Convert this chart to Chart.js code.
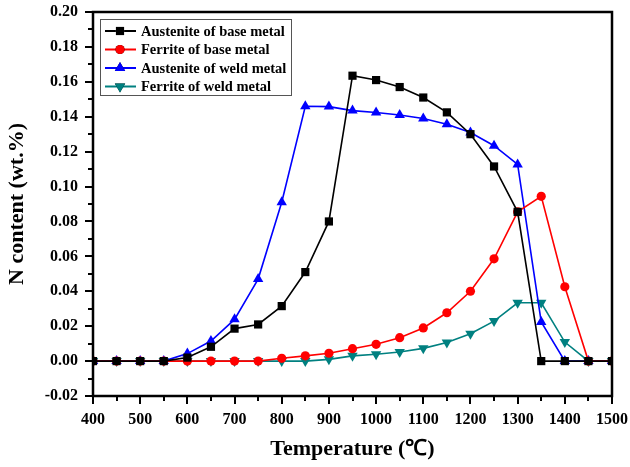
<!DOCTYPE html>
<html>
<head>
<meta charset="utf-8">
<title>N content vs temperature</title>
<script src="https://cdn.jsdelivr.net/npm/chart.js@4.4.1/dist/chart.umd.min.js"></script>
<style>
  html, body { margin: 0; padding: 0; background: #fff; }
  #wrap { width: 630px; height: 467px; }
</style>
</head>
<body>
<div id="wrap"><canvas id="nGraph" width="630" height="467"></canvas></div>
<script>
// temperature steps (°C)
const temps = [400, 450, 500, 550, 600, 650, 700, 750, 800, 850, 900, 950, 1000,
  1050, 1100, 1150, 1200, 1250, 1300, 1350, 1400, 1450, 1500];

// N content (wt.%)
const austeniteBase = [0, 0, 0, 0, 0.002, 0.0082, 0.0186, 0.021, 0.0315, 0.051, 0.080, 0.1635, 0.161,
  0.157, 0.151, 0.1425, 0.130, 0.1115, 0.0855, 0, 0, 0, 0];
const ferriteBase = [0, 0, 0, 0, 0, 0, 0, 0, 0.0016, 0.003, 0.0045, 0.0071, 0.0096,
  0.0134, 0.019, 0.0277, 0.040, 0.0586, 0.0855, 0.0944, 0.0426, 0, 0];
const austeniteWeld = [0, 0, 0, 0, 0.0043, 0.0115, 0.0239, 0.047, 0.091, 0.146, 0.1458, 0.1435, 0.1424,
  0.141, 0.139, 0.1357, 0.131, 0.1234, 0.1127, 0.0224, 0, 0, 0];
const ferriteWeld = [0, 0, 0, 0, 0, 0, 0, 0, 0, 0, 0.001, 0.003, 0.0039,
  0.0052, 0.0073, 0.0106, 0.0157, 0.0229, 0.0334, 0.0334, 0.0109, 0, 0];

const xTicks = [400, 500, 600, 700, 800, 900, 1000, 1100, 1200, 1300, 1400, 1500];
const yTicks = [-0.02, 0, 0.02, 0.04, 0.06, 0.08, 0.10, 0.12, 0.14, 0.16, 0.18, 0.20];

const serif = "'Liberation Serif', 'Times New Roman', serif";

function pts(vals) {
  return vals.map((v, i) => ({ x: temps[i], y: v }));
}

function series(label, vals, color, style, radius, rotation) {
  return {
    label: label,
    data: pts(vals),
    borderColor: color,
    backgroundColor: color,
    borderWidth: 1.6,
    pointStyle: style,
    pointRadius: radius,
    pointRotation: rotation || 0,
    pointBorderWidth: 0,
    pointHoverRadius: radius,
    tension: 0
  };
}

// frame, outward ticks and the boxed legend in the top-left corner
const framePlugin = {
  id: 'frame',
  afterDraw(chart) {
    const ctx = chart.ctx;
    const a = chart.chartArea;
    const xs = chart.scales.x;
    const ys = chart.scales.y;
    ctx.save();
    ctx.strokeStyle = '#000';

    // minor + major ticks
    ctx.lineWidth = 2;
    for (let t = 400; t <= 1500; t += 50) {
      const px = Math.round(xs.getPixelForValue(t));
      const len = (t % 100 === 0) ? 8 : 5;
      ctx.beginPath();
      ctx.moveTo(px, a.bottom);
      ctx.lineTo(px, a.bottom + len);
      ctx.stroke();
    }
    for (let k = -2; k <= 20; k++) {
      const py = Math.round(ys.getPixelForValue(k / 100));
      const len = (k % 2 === 0) ? 8 : 5;
      ctx.beginPath();
      ctx.moveTo(a.left, py);
      ctx.lineTo(a.left - len, py);
      ctx.stroke();
    }

    ctx.lineWidth = 2.5;
    ctx.strokeRect(a.left, a.top, a.right - a.left, a.bottom - a.top);

    // legend
    const lx = a.left + 7, ly = a.top + 7, lw = 191, lh = 76;
    ctx.fillStyle = '#fff';
    ctx.fillRect(lx, ly, lw, lh);
    ctx.lineWidth = 1;
    ctx.strokeStyle = '#555';
    ctx.strokeRect(lx + 0.5, ly + 0.5, lw, lh);
    ctx.font = 'bold 14.5px ' + serif;
    ctx.textBaseline = 'middle';
    chart.data.datasets.forEach((ds, i) => {
      const cy = ly + 12 + i * 18.5;
      ctx.strokeStyle = ds.borderColor;
      ctx.lineWidth = 2;
      ctx.beginPath();
      ctx.moveTo(lx + 5, cy);
      ctx.lineTo(lx + 36, cy);
      ctx.stroke();
      Chart.helpers.drawPoint(ctx, {
        pointStyle: ds.pointStyle,
        radius: ds.pointRadius,
        rotation: ds.pointRotation,
        borderWidth: 0
      }, lx + 20, cy);
      ctx.fillStyle = ds.borderColor;
      ctx.fill();
      ctx.fillStyle = '#000';
      ctx.fillText(ds.label, lx + 41, cy + 1);
    });
    ctx.restore();
  }
};

const ctx = document.getElementById('nGraph').getContext('2d');
new Chart(ctx, {
  type: 'line',
  data: {
    datasets: [
      series('Austenite of base metal', austeniteBase, '#000000', 'rect', 5.8),
      series('Ferrite of base metal', ferriteBase, '#ff0000', 'circle', 4.6),
      series('Austenite of weld metal', austeniteWeld, '#0000ff', 'triangle', 6),
      series('Ferrite of weld metal', ferriteWeld, '#008080', 'triangle', 6, 180)
    ]
  },
  options: {
    responsive: false,
    animation: false,
    events: [],
    layout: { padding: { top: 12, right: 18, left: 0, bottom: 0 } },
    plugins: {
      legend: { display: false },
      tooltip: { enabled: false }
    },
    scales: {
      x: {
        type: 'linear',
        min: 400,
        max: 1500,
        afterBuildTicks(scale) {
          scale.ticks = xTicks.map(v => ({ value: v }));
        },
        afterFit(scale) {
          scale.height = 71;
          scale.paddingLeft = 0;
          scale.paddingRight = 0;
        },
        grid: { display: false, drawTicks: false },
        border: { display: false },
        ticks: {
          color: '#000',
          padding: 14,
          maxRotation: 0,
          font: { family: serif, size: 16, weight: 'bold' },
          callback: v => String(v)
        },
        title: {
          display: true,
          text: 'Temperature (℃)',
          color: '#000',
          padding: { top: 10 },
          font: { family: serif, size: 22, weight: 'bold' }
        }
      },
      y: {
        type: 'linear',
        min: -0.02,
        max: 0.20,
        afterBuildTicks(scale) {
          scale.ticks = yTicks.map(v => ({ value: v }));
        },
        afterFit(scale) {
          scale.width = 93;
          scale.paddingTop = 0;
          scale.paddingBottom = 0;
        },
        grid: { display: false, drawTicks: false },
        border: { display: false },
        ticks: {
          color: '#000',
          padding: 15,
          font: { family: serif, size: 16, weight: 'bold' },
          callback: v => v.toFixed(2)
        },
        title: {
          display: true,
          text: 'N content (wt.%)',
          color: '#000',
          padding: { bottom: 0 },
          font: { family: serif, size: 22, weight: 'bold' }
        }
      }
    }
  },
  plugins: [framePlugin]
});
</script>
</body>
</html>
